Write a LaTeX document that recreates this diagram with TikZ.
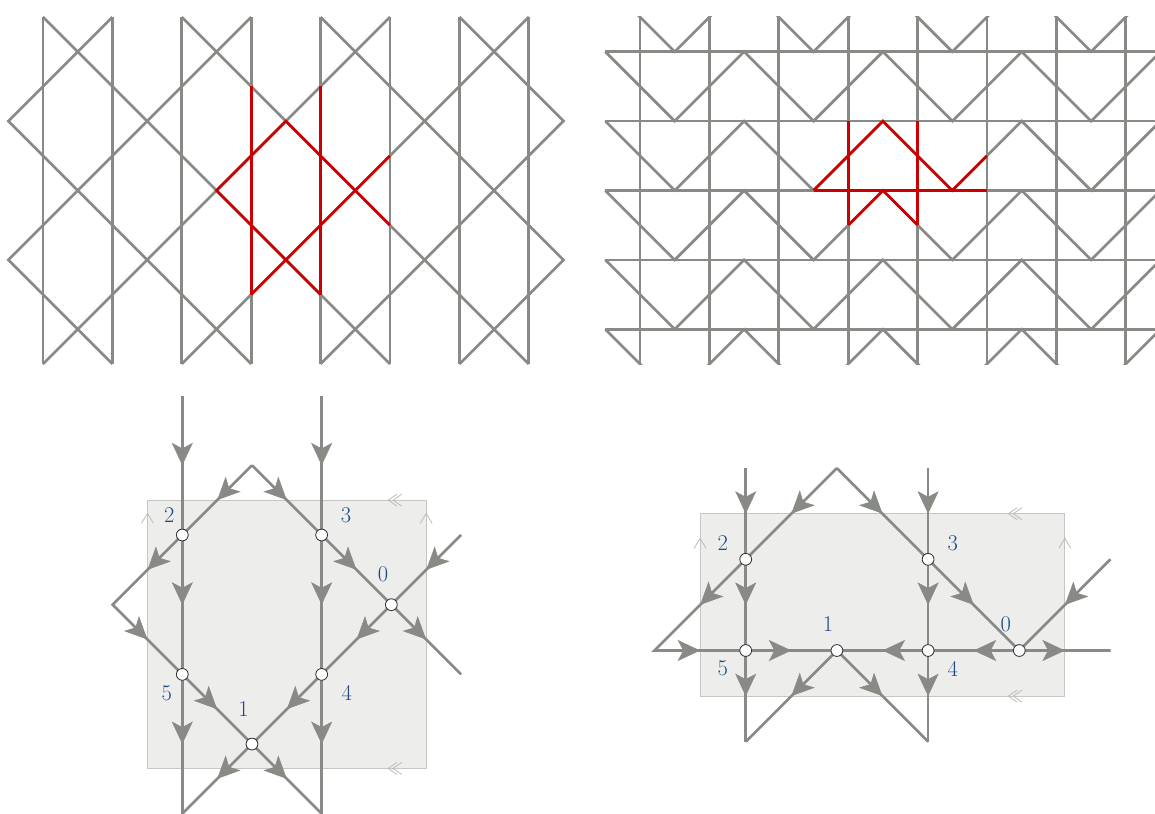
\documentclass[tikz,border=0pt]{standalone}
\usetikzlibrary{arrows.meta,decorations.markings}
\definecolor{alu}{HTML}{888A85}
\definecolor{scarlet}{HTML}{CC0000}
\definecolor{boxfill}{HTML}{EDEDEB}
\definecolor{boxline}{HTML}{C6C6C2}
\definecolor{chevcol}{HTML}{BDBDBA}
\definecolor{lblue}{HTML}{204A87}
\definecolor{ringcol}{HTML}{2E3436}
\tikzset{
  gline/.style={draw=alu, line width=1.9pt},
  rline/.style={draw=scarlet, line width=1.9pt},
  arr/.style={decoration={markings, mark=at position 0.5 with {\arrow{Stealth[length=16pt,width=15pt,inset=4pt,color=alu]}}}, decorate},
  vert/.style={circle, draw=ringcol, fill=white, line width=0.6pt, inner sep=0pt, minimum size=8.4pt},
  lbl/.style={text=lblue, font=\fontsize{16}{18}\selectfont, inner sep=0pt},
  fdom/.style={fill=boxfill, draw=boxline, line width=0.7pt},
  chevron/.style={draw=chevcol, line width=0.6pt},
  chevup/.pic={\draw[chevron] (-0.15cm,-0.25cm) -- (0,0) -- (0.15cm,-0.25cm);},
  chevleft/.pic={\draw[chevron] (0.22cm,0.15cm) -- (0,0) -- (0.22cm,-0.15cm);
                 \draw[chevron] (0.34cm,0.15cm) -- (0.12cm,0) -- (0.34cm,-0.15cm);}
}
\begin{document}
\begin{tikzpicture}
\useasboundingbox (0,0) rectangle (28.875,-20.325);

% ---------------- top left pattern ----------------
\begin{scope}[shift={(1.075cm,-0.425cm)}, x=0.8675cm, y=-0.8675cm]
  \foreach \x in {0,2,...,14} \draw[gline] (\x,0) -- (\x,10);
  \draw[gline] (0,0) -- (10,10);
  \draw[gline] (4,0) -- (14,10);
  \draw[gline] (2,0) -- (-1,3) -- (6,10);
  \draw[gline] (6,0) -- (-1,7) -- (2,10);
  \draw[gline] (0,10) -- (10,0);
  \draw[gline] (4,10) -- (14,0);
  \draw[gline] (12,0) -- (15,3) -- (8,10);
  \draw[gline] (8,0) -- (15,7) -- (12,10);
  % red motif
  \draw[rline] (6,2) -- (6,8);
  \draw[rline] (8,2) -- (8,8);
  \draw[rline] (10,6) -- (7,3) -- (5,5) -- (8,8);
  \draw[rline] (6,8) -- (10,4);
\end{scope}

% ---------------- top right pattern ----------------
\begin{scope}[shift={(16.0cm,-0.425cm)}, x=0.8675cm, y=-0.8675cm]
  \foreach \x in {0,2,...,14} \draw[gline] (\x,0) -- (\x,10);
  \foreach \y in {1,3,5,7,9} \draw[gline] (-1,\y) -- (15,\y);
  \begin{scope}
    \clip (-2,0) rectangle (16,10);
    \foreach \y in {-1,1,3,5,7,9}
      \draw[gline] (-1,\y) -- (1,\y+2) -- (3,\y) -- (5,\y+2) -- (7,\y) -- (9,\y+2) -- (11,\y) -- (13,\y+2) -- (15,\y);
  \end{scope}
  % red motif
  \draw[rline] (6,3) -- (6,6);
  \draw[rline] (8,3) -- (8,6);
  \draw[rline] (5,5) -- (10,5);
  \draw[rline] (5,5) -- (7,3) -- (9,5) -- (10,4);
  \draw[rline] (6,6) -- (7,5) -- (8,6);
\end{scope}

% ---------------- bottom left graph ----------------
\begin{scope}[shift={(4.5575cm,-13.375cm)}, x=0.871cm, y=-0.871cm]
  \draw[fdom] (-1,-1) rectangle (7,6.7);
  \pic at (-1,-0.62) {chevup};
  \pic at (7,-0.62) {chevup};
  \pic at (5.91,-1) {chevleft};
  \pic at (5.91,6.7) {chevleft};
  \coordinate (a2) at (0,0);
  \coordinate (a3) at (4,0);
  \coordinate (a0) at (6,2);
  \coordinate (a5) at (0,4);
  \coordinate (a4) at (4,4);
  \coordinate (a1) at (2,6);
  \coordinate (at) at (2,-2);
  \coordinate (al) at (-2,2);
  \coordinate (au1) at (0,-4);
  \coordinate (au2) at (4,-4);
  \coordinate (ab1) at (0,8);
  \coordinate (ab2) at (4,8);
  \coordinate (ar1) at (8,0);
  \coordinate (ar2) at (8,4);
  \draw[gline] (au1) -- (a2) -- (a5) -- (ab1);
  \draw[gline] (au2) -- (a3) -- (a4) -- (ab2);
  \draw[gline] (at) -- (a2) -- (al) -- (a5) -- (a1) -- (ab2);
  \draw[gline] (at) -- (a3) -- (a0) -- (ar2);
  \draw[gline] (ar1) -- (a0) -- (a4) -- (a1) -- (ab1);
  \path[arr] (au1) -- (a2);  \path[arr] (a2) -- (a5);  \path[arr] (a5) -- (ab1);
  \path[arr] (au2) -- (a3);  \path[arr] (a3) -- (a4);  \path[arr] (a4) -- (ab2);
  \path[arr] (at) -- (a2);   \path[arr] (a2) -- (al);  \path[arr] (al) -- (a5);
  \path[arr] (a5) -- (a1);   \path[arr] (a1) -- (ab2);
  \path[arr] (at) -- (a3);   \path[arr] (a3) -- (a0);  \path[arr] (a0) -- (ar2);
  \path[arr] (ar1) -- (a0);  \path[arr] (a0) -- (a4);  \path[arr] (a4) -- (a1);
  \path[arr] (a1) -- (ab1);
  \node[vert] (na2) at (a2) {};
  \node[vert] (na3) at (a3) {};
  \node[vert] (na0) at (a0) {};
  \node[vert] (na5) at (a5) {};
  \node[vert] (na4) at (a4) {};
  \node[vert] (na1) at (a1) {};
  \node[lbl] (la2) at ([shift={(-0.325cm,0.5cm)}]a2) {2};
  \node[lbl] (la3) at ([shift={(0.61cm,0.5cm)}]a3) {3};
  \node[lbl] (la0) at ([shift={(-0.21cm,0.75cm)}]a0) {0};
  \node[lbl] (la5) at ([shift={(-0.39cm,-0.46cm)}]a5) {5};
  \node[lbl] (la4) at ([shift={(0.625cm,-0.46cm)}]a4) {4};
  \node[lbl] (la1) at ([shift={(-0.21cm,0.875cm)}]a1) {1};
\end{scope}

% ---------------- bottom right graph ----------------
\begin{scope}[shift={(18.6425cm,-13.9825cm)}, x=1.14cm, y=-1.14cm]
  \draw[fdom] (-1,-1) rectangle (7,3);
  \pic at (-1,-0.46) {chevup};
  \pic at (7,-0.46) {chevup};
  \pic at (5.76,-1) {chevleft};
  \pic at (5.76,3) {chevleft};
  \coordinate (b2) at (0,0);
  \coordinate (b3) at (4,0);
  \coordinate (b5) at (0,2);
  \coordinate (b1) at (2,2);
  \coordinate (b4) at (4,2);
  \coordinate (b0) at (6,2);
  \coordinate (bt) at (2,-2);
  \coordinate (bl) at (-2,2);
  \coordinate (bu1) at (0,-2);
  \coordinate (bu2) at (4,-2);
  \coordinate (bb1) at (0,4);
  \coordinate (bb2) at (4,4);
  \coordinate (br1) at (8,0);
  \coordinate (br2) at (8,2);
  \draw[gline] (bu1) -- (b2) -- (b5) -- (bb1);
  \draw[gline] (bu2) -- (b3) -- (b4) -- (bb2);
  \draw[gline] (bt) -- (b2) -- (bl) -- (b5) -- (b1) -- (bb2);
  \draw[gline] (bt) -- (b3) -- (b0) -- (br2);
  \draw[gline] (br1) -- (b0) -- (b4) -- (b1) -- (bb1);
  \path[arr] (bu1) -- (b2);  \path[arr] (b2) -- (b5);  \path[arr] (b5) -- (bb1);
  \path[arr] (bu2) -- (b3);  \path[arr] (b3) -- (b4);  \path[arr] (b4) -- (bb2);
  \path[arr] (bt) -- (b2);   \path[arr] (b2) -- (bl);  \path[arr] (bl) -- (b5);
  \path[arr] (b5) -- (b1);   \path[arr] (b1) -- (bb2);
  \path[arr] (bt) -- (b3);   \path[arr] (b3) -- (b0);  \path[arr] (b0) -- (br2);
  \path[arr] (br1) -- (b0);  \path[arr] (b0) -- (b4);  \path[arr] (b4) -- (b1);
  \path[arr] (b1) -- (bb1);
  \node[vert] (nb2) at (b2) {};
  \node[vert] (nb3) at (b3) {};
  \node[vert] (nb5) at (b5) {};
  \node[vert] (nb1) at (b1) {};
  \node[vert] (nb4) at (b4) {};
  \node[vert] (nb0) at (b0) {};
  \node[lbl] (lb2) at ([shift={(-0.575cm,0.4cm)}]b2) {2};
  \node[lbl] (lb3) at ([shift={(0.615cm,0.4cm)}]b3) {3};
  \node[lbl] (lb1) at ([shift={(-0.225cm,0.65cm)}]b1) {1};
  \node[lbl] (lb0) at ([shift={(-0.34cm,0.65cm)}]b0) {0};
  \node[lbl] (lb5) at ([shift={(-0.575cm,-0.45cm)}]b5) {5};
  \node[lbl] (lb4) at ([shift={(0.615cm,-0.45cm)}]b4) {4};
\end{scope}
\end{tikzpicture}
\end{document}
